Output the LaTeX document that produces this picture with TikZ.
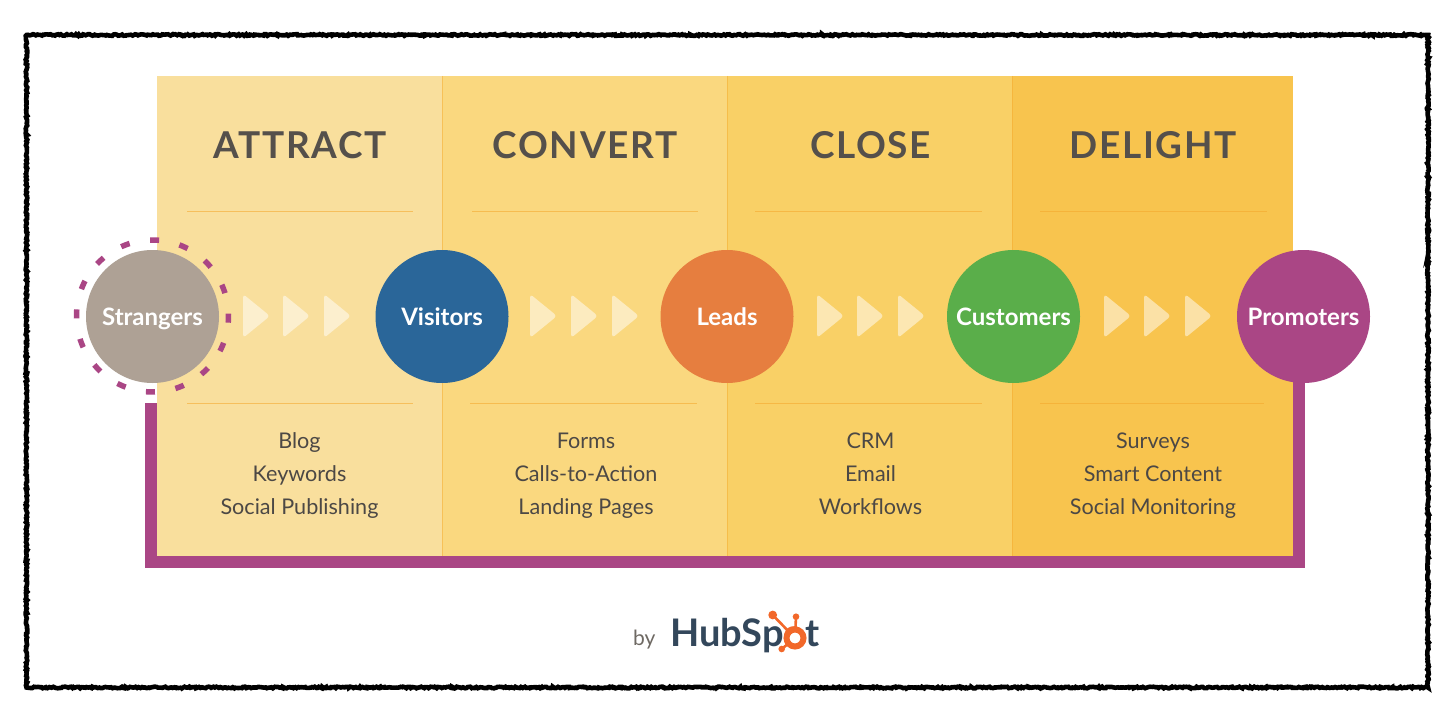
\documentclass[tikz,border=0pt]{standalone}
\usepackage{fontspec}
\setmainfont{Lato}
\usetikzlibrary{decorations.pathmorphing,calc}
\definecolor{inkc}{HTML}{4C4845}
\definecolor{headc}{HTML}{55504B}
\definecolor{purp}{HTML}{AA4685}
\definecolor{sepc}{HTML}{F4A62A}
\definecolor{hubc}{HTML}{33475B}
\definecolor{hubo}{HTML}{F2682A}
\definecolor{byc}{HTML}{6E6963}
\definecolor{pa}{HTML}{F9DF9D}
\definecolor{pb}{HTML}{FAD87F}
\definecolor{pc}{HTML}{F9D066}
\definecolor{pd}{HTML}{F8C44E}
\definecolor{cs}{HTML}{AEA195}
\definecolor{cv}{HTML}{2A6699}
\definecolor{cl}{HTML}{E67E3F}
\definecolor{cc}{HTML}{5AAE4A}
\tikzset{
  x=1pt,y=-1pt,
  panel/.style={fill=#1,draw=none},
  head/.style={font=\fontsize{37}{37}\selectfont\bfseries\addfontfeatures{LetterSpace=4.5},text=headc,anchor=center,text height=27pt,text depth=0pt},
  body/.style={font=\fontsize{21.6}{33}\selectfont,text=inkc,align=center,anchor=center},
  stage/.style={circle,minimum size=133pt,inner sep=0pt,fill=#1,text=white,font=\fontsize{24}{24}\selectfont\bfseries,text height=19pt,text depth=2pt},
  sepl/.style={draw=sepc,draw opacity=.55,line width=1pt},
  chev/.style={fill=white,fill opacity=.5,rounded corners=3.5pt},
  loopline/.style={draw=purp,line width=12pt,line cap=butt,line join=miter},
  rough/.style={draw=black,line width=4.6pt,decorate,decoration={random steps,segment length=1.5pt,amplitude=0.8pt}},
  spoke/.style={draw=hubo,line width=2.6pt},
}
\pgfmathsetseed{7}
\newcommand{\chevs}[3]{\foreach \cx in {#1,#2,#3}{\path[chev] (\cx,294) -- (\cx,338) -- (\cx+27,316) -- cycle;}}
\begin{document}
\begin{tikzpicture}
\useasboundingbox (0,0) rectangle (1456,722);
\fill[white] (0,0) rectangle (1456,722);
% frame
\coordinate (fa) at (26.5,35);
\coordinate (fb) at (1428,35);
\coordinate (fc) at (1428,687.5);
\coordinate (fd) at (26.5,687.5);
\draw[rough] (fa) -- (fb) -- (fc) -- (fd) -- cycle;
% panels
\path[panel=pa] (157,76) rectangle (442,556);
\path[panel=pb] (442,76) rectangle (727,556);
\path[panel=pc] (727,76) rectangle (1012,556);
\path[panel=pd] (1012,76) rectangle (1293,556);
\draw[sepc,draw opacity=.45,line width=.8pt] (442,76) -- (442,556) (727,76) -- (727,556) (1012,76) -- (1012,556);
% headings
\node[head] (hattract) at (300,145.5) {ATTRACT};
\node[head] (hconvert) at (585,145.5) {CONVERT};
\node[head] (hclose) at (870.5,145.5) {CLOSE};
\node[head] (hdelight) at (1153,145.5) {DELIGHT};
% separators
\draw[sepl] (187,212) -- (413,212) (472,212) -- (698,212) (755,212) -- (982,212) (1040,212) -- (1267,212);
\draw[sepl] (187,403) -- (413,403) (470,403) -- (697,403) (755,403) -- (982,403) (1040,403) -- (1264,403);
% bodies
\node[body] (b1) at (299.5,474.5) {\strut Blog\\\strut Keywords\\\strut Social Publishing};
\node[body] (b2) at (586,474.5) {\strut Forms\\\strut Calls-to-Action\\\strut Landing Pages};
\node[body] (b3) at (870.5,474.5) {\strut CRM\\\strut Email\\\strut Workflows};
\node[body] (b4) at (1153,474.5) {\strut Surveys\\\strut Smart Content\\\strut Social Monitoring};
% chevrons
\chevs{243}{283}{324}
\chevs{530}{571}{612}
\chevs{817}{857}{898}
\chevs{1104}{1144}{1185}
% loop
\coordinate (loopa) at (1299,370);
\coordinate (loopb) at (1299,562);
\coordinate (loopc) at (151,562);
\coordinate (loopd) at (151,403);
\draw[loopline] (loopa) -- (loopb) -- (loopc) -- (loopd);
% ring
\draw[purp,line width=5.5pt,dash pattern=on 9pt off 20.85pt,shift={(152.5,316)},rotate=-5] (0,0) circle[radius=76pt];
% stages
\node[stage=cs] (strangers) at (152.5,316.5) {Strangers};
\node[stage=cv] (visitors) at (442,316.5) {Visitors};
\node[stage=cl] (leads) at (727,316.5) {Leads};
\node[stage=cc] (customers) at (1013.5,316.5) {Customers};
\node[stage=purp] (promoters) at (1303.5,316.5) {Promoters};
% logo
\node[anchor=base west,inner sep=0pt,font=\fontsize{21}{21}\selectfont,text=byc] (by) at (633,645) {by};
\node[anchor=base west,inner sep=0pt,font=\fontsize{38}{38}\selectfont\bfseries,text=hubc] (hub) at (670,646) {HubSp{\color{hubo}o}t};
\coordinate (hring) at (795,638);
\coordinate (hba) at (772.7,615);
\coordinate (hbb) at (796,616.7);
\coordinate (hbc) at (781.7,649);
\draw[spoke] (hring) -- (hba) (hring) -- (hbb) (hring) -- (hbc);
\fill[white] (hring) circle[radius=6pt];
\draw[hubo,line width=6pt] (hring) circle[radius=8.5pt];
\fill[hubo] (hba) circle[radius=4.4pt] (hbb) circle[radius=3.3pt] (hbc) circle[radius=3.3pt];
\end{tikzpicture}
\end{document}
